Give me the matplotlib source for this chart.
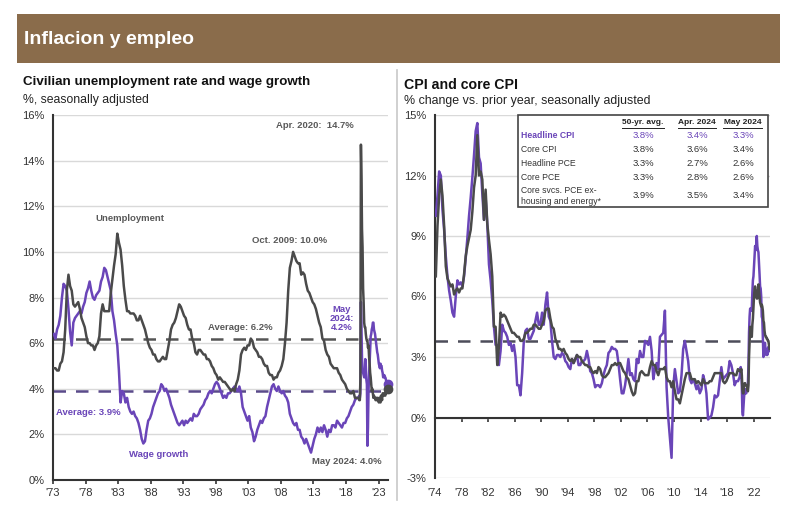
import numpy as np
import matplotlib
matplotlib.use('Agg')
import matplotlib.pyplot as plt
from matplotlib.patches import Rectangle
from matplotlib.lines import Line2D

plt.rcParams['font.family'] = ['Liberation Sans', 'DejaVu Sans']

# ---- unemployment rate, quarterly 1973-2019 then monthly 2020-May 2024
unemp_q = [
    4.9, 4.9, 4.8, 4.8,   5.1, 5.2, 5.6, 6.6,   8.3, 9.0, 8.5, 8.3,   7.7, 7.6, 7.7, 7.8,
    7.5, 7.1, 6.9, 6.7,   6.3, 6.0, 6.0, 5.9,   5.9, 5.7, 5.9, 6.0,   6.3, 7.3, 7.7, 7.4,
    7.4, 7.4, 7.4, 8.2,   8.8, 9.4, 9.9, 10.8,  10.4, 10.1, 9.4, 8.5,  7.9, 7.4, 7.4, 7.3,
    7.3, 7.3, 7.2, 7.0,   7.0, 7.2, 7.0, 6.8,   6.6, 6.3, 6.0, 5.8,   5.7, 5.5, 5.5, 5.3,
    5.2, 5.2, 5.3, 5.4,   5.3, 5.3, 5.7, 6.1,   6.6, 6.8, 6.9, 7.1,   7.4, 7.7, 7.6, 7.4,
    7.2, 7.1, 6.8, 6.6,   6.6, 6.2, 6.0, 5.6,   5.5, 5.7, 5.7, 5.6,   5.5, 5.5, 5.3, 5.3,
    5.2, 5.0, 4.9, 4.7,   4.6, 4.4, 4.5, 4.4,   4.3, 4.3, 4.2, 4.1,   4.0, 3.9, 4.0, 3.9,
    4.2, 4.4, 4.8, 5.5,   5.7, 5.8, 5.7, 5.9,   5.9, 6.2, 6.1, 5.8,   5.7, 5.6, 5.4, 5.4,
    5.3, 5.1, 5.0, 5.0,   4.7, 4.6, 4.6, 4.4,   4.5, 4.5, 4.7, 4.8,   5.0, 5.3, 6.0, 6.9,
    8.3, 9.3, 9.6, 10.0,  9.8, 9.6, 9.5, 9.5,   9.0, 9.1, 9.0, 8.6,   8.3, 8.2, 8.0, 7.8,
    7.7, 7.5, 7.2, 6.9,   6.7, 6.2, 6.1, 5.7,   5.5, 5.4, 5.1, 5.0,   4.9, 4.9, 4.9, 4.7,
    4.6, 4.4, 4.3, 4.2,   4.0, 3.9, 3.8, 3.8,   3.9, 3.6, 3.6, 3.6,
]
unemp_m = [
    3.5, 3.5, 4.4, 14.7, 13.2, 11.0, 10.2, 8.4, 7.8, 6.9, 6.7, 6.7,
    6.4, 6.2, 6.1, 6.1, 5.8, 5.9, 5.4, 5.1, 4.7, 4.5, 4.2, 3.9,
    4.0, 3.8, 3.6, 3.7, 3.6, 3.6, 3.5, 3.6, 3.5, 3.6, 3.6, 3.5,
    3.4, 3.6, 3.5, 3.4, 3.7, 3.6, 3.5, 3.8, 3.8, 3.8, 3.7, 3.7,
    3.7, 3.9, 3.8, 3.9, 4.0,
]

# ---- wage growth (% y/y), quarterly 1973-2019 then monthly 2020-May 2024
wage_q = [
    6.4, 6.2, 6.6, 6.8,   7.2, 8.0, 8.6, 8.5,   8.3, 7.5, 6.5, 5.9,   6.9, 7.1, 7.2, 7.3,
    7.4, 7.3, 7.6, 7.8,   8.2, 8.4, 8.7, 8.3,   8.0, 7.9, 8.1, 8.2,   8.3, 8.7, 8.9, 9.3,
    9.2, 8.9, 8.6, 8.3,   7.4, 7.0, 6.4, 5.9,   4.8, 3.4, 3.9, 3.8,   3.4, 3.6, 3.2, 3.0,
    2.9, 3.0, 2.8, 2.7,   2.5, 2.2, 1.8, 1.6,   1.7, 2.2, 2.6, 2.7,   2.9, 3.2, 3.4, 3.6,
    3.8, 3.9, 4.2, 4.1,   3.9, 4.0, 3.8, 3.6,   3.3, 3.1, 2.9, 2.7,   2.5, 2.4, 2.5, 2.6,
    2.4, 2.6, 2.5, 2.6,   2.7, 2.6, 2.9, 2.8,   2.8, 2.9, 3.1, 3.2,   3.3, 3.5, 3.6, 3.8,
    3.9, 3.8, 4.0, 4.2,   4.3, 4.2, 4.0, 3.8,   3.6, 3.7, 3.6, 3.8,   3.8, 3.9, 4.0, 4.1,
    4.0, 3.9, 4.1, 3.8,   3.2, 3.0, 2.8, 2.6,   2.8, 2.3, 2.1, 1.7,   1.9, 2.2, 2.4, 2.6,
    2.5, 2.7, 2.8, 3.2,   3.5, 3.8, 4.1, 4.2,   4.0, 3.9, 4.1, 3.9,   3.8, 3.9, 3.7, 3.6,
    3.4, 2.9, 2.7, 2.5,   2.4, 2.5, 2.2, 2.2,   1.9, 1.8, 1.6, 1.8,   1.6, 1.4, 1.2, 1.5,
    1.8, 2.0, 2.3, 2.1,   2.3, 2.1, 2.4, 2.2,   1.9, 2.2, 2.1, 2.4,   2.4, 2.3, 2.6, 2.5,
    2.4, 2.3, 2.5, 2.5,   2.7, 2.8, 3.0, 3.2,   3.3, 3.5, 3.6, 3.6,
]
wage_m = [
    3.7, 3.6, 3.8, 7.8, 6.7, 5.3, 4.8, 4.7, 4.6, 4.5, 4.5, 5.3,
    5.0, 4.4, 4.2, 1.5, 2.3, 3.9, 4.6, 5.1, 5.7, 6.3, 6.4, 6.6,
    6.7, 6.9, 6.9, 6.6, 6.5, 6.4, 6.2, 6.0, 5.8, 5.6, 5.5, 5.3,
    5.1, 5.0, 4.9, 5.1, 5.0, 5.0, 4.8, 4.7, 4.5, 4.5, 4.6, 4.5,
    4.5, 4.4, 4.3, 4.0, 4.2,
]

# ---- CPI (% y/y), quarterly 1974-2019 then monthly 2020-May 2024
cpi_q = [
    10.0, 11.0, 12.2, 12.0,  10.3, 9.3, 8.0, 7.0,   6.3, 5.8, 5.2, 5.0,   6.0, 6.8, 6.6, 6.7,
    6.5, 7.0, 7.9, 8.9,   10.0, 10.9, 11.9, 13.0,  14.2, 14.6, 12.9, 12.6,  11.1, 9.8, 10.9, 9.6,
    7.6, 6.8, 5.8, 4.5,   3.6, 3.6, 2.6, 3.3,   4.6, 4.3, 4.2, 4.0,   3.6, 3.7, 3.3, 3.6,
    3.0, 1.6, 1.6, 1.1,   2.2, 3.8, 4.3, 4.4,   3.9, 3.9, 4.1, 4.3,   4.8, 5.2, 4.6, 4.6,
    5.2, 4.6, 5.6, 6.2,   5.0, 4.8, 3.8, 3.0,   2.9, 3.1, 3.1, 3.0,   3.2, 3.1, 2.8, 2.7,
    2.5, 2.4, 2.9, 2.7,   2.9, 3.1, 2.6, 2.6,   2.8, 2.8, 2.9, 3.3,   2.9, 2.3, 2.2, 1.9,
    1.5, 1.6, 1.6, 1.5,   1.7, 2.1, 2.4, 2.6,   3.2, 3.3, 3.5, 3.4,   3.4, 3.3, 2.7, 1.9,
    1.2, 1.2, 1.6, 2.2,   2.9, 2.1, 2.2, 1.9,   1.8, 2.9, 2.7, 3.3,   3.0, 3.0, 3.8, 3.7,
    3.6, 4.0, 3.3, 1.9,   2.4, 2.7, 2.4, 4.0,   4.1, 4.2, 5.3, 1.5,   0.0, -1.0, -2.0, 1.5,
    2.4, 1.8, 1.2, 1.3,   2.1, 3.4, 3.8, 3.3,   2.8, 1.9, 1.7, 1.9,   1.7, 1.4, 1.6, 1.2,
    1.4, 2.1, 1.8, 1.2,   -0.1, 0.0, 0.1, 0.5,  1.1, 1.0, 1.1, 1.8,   2.5, 1.9, 2.0, 2.1,
    2.2, 2.8, 2.6, 2.2,   1.6, 1.8, 1.8, 2.0,
]
cpi_m = [
    2.5, 2.3, 1.5, 0.3, 0.1, 0.6, 1.0, 1.3, 1.4, 1.2, 1.2, 1.4,
    1.4, 1.7, 2.6, 4.2, 5.0, 5.4, 5.4, 5.3, 5.4, 6.2, 6.8, 7.0,
    7.5, 7.9, 8.5, 8.3, 8.6, 9.0, 8.5, 8.3, 8.2, 7.7, 7.1, 6.5,
    6.4, 6.0, 5.0, 4.9, 4.0, 3.0, 3.2, 3.7, 3.7, 3.2, 3.1, 3.4,
    3.1, 3.2, 3.5, 3.4, 3.3,
]
core_q = [
    7.0, 9.5, 11.0, 11.8,  11.0, 9.5, 7.5, 6.9,   6.7, 6.5, 6.6, 6.1,   6.3, 6.4, 6.2, 6.4,
    6.4, 7.1, 8.0, 8.5,   8.9, 9.3, 10.2, 11.4,  12.0, 14.0, 12.0, 12.2,  11.8, 9.8, 11.3, 9.6,
    8.8, 8.1, 7.0, 4.5,   4.5, 2.6, 3.5, 5.2,   5.0, 5.1, 5.0, 4.8,   4.6, 4.4, 4.2, 4.2,
    4.1, 4.0, 4.0, 3.8,   3.8, 3.9, 4.2, 4.2,   4.3, 4.4, 4.4, 4.6,   4.6, 4.5, 4.4, 4.4,
    4.6, 4.8, 5.3, 5.4,   5.4, 4.9, 4.5, 4.4,   3.9, 3.7, 3.4, 3.4,   3.3, 3.4, 3.2, 3.1,
    2.9, 2.8, 2.9, 2.7,   2.9, 3.1, 3.0, 3.0,   2.8, 2.7, 2.6, 2.6,   2.5, 2.5, 2.3, 2.2,
    2.3, 2.2, 2.5, 2.4,   2.1, 2.0, 2.0, 2.1,   2.2, 2.4, 2.6, 2.6,   2.7, 2.6, 2.7, 2.7,
    2.5, 2.3, 2.2, 2.0,   1.9, 1.6, 1.3, 1.1,   1.2, 1.8, 1.8, 2.2,   2.3, 2.2, 2.1, 2.1,
    2.1, 2.5, 2.8, 2.6,   2.6, 2.3, 2.1, 2.4,   2.4, 2.4, 2.5, 2.0,   1.8, 1.8, 1.5, 1.8,
    1.3, 0.9, 0.9, 0.7,   1.1, 1.5, 1.9, 2.2,   2.2, 2.2, 1.9, 1.9,   1.9, 1.7, 1.8, 1.7,
    1.6, 1.9, 1.7, 1.7,   1.7, 1.8, 1.8, 2.0,   2.2, 2.2, 2.2, 2.2,   2.2, 1.8, 1.7, 1.8,
    2.0, 2.2, 2.2, 2.2,   2.1, 2.1, 2.4, 2.3,
]
core_m = [
    2.3, 2.4, 2.1, 1.4, 1.2, 1.2, 1.6, 1.7, 1.7, 1.6, 1.6, 1.6,
    1.4, 1.3, 1.6, 3.0, 3.8, 4.5, 4.3, 4.0, 4.0, 4.6, 4.9, 5.5,
    6.0, 6.4, 6.5, 6.2, 6.0, 5.9, 5.9, 6.3, 6.6, 6.3, 6.0, 5.7,
    5.6, 5.5, 5.6, 5.5, 5.3, 4.8, 4.7, 4.3, 4.1, 4.0, 4.0, 3.9,
    3.9, 3.8, 3.8, 3.6, 3.4,
]

unemp_avg = 6.2
wage_avg = 3.9
cpi_avg = 3.8

left_years = [1973, 1978, 1983, 1988, 1993, 1998, 2003, 2008, 2013, 2018, 2023]
right_years = [1974, 1978, 1982, 1986, 1990, 1994, 1998, 2002, 2006, 2010, 2014, 2018, 2022]

table_cols = ['50-yr. avg.', 'Apr. 2024', 'May 2024']
table_rows = ['Headline CPI', 'Core CPI', 'Headline PCE', 'Core PCE',
              'Core svcs. PCE ex-\nhousing and energy*']
table_vals = [['3.8%', '3.4%', '3.3%'],
              ['3.8%', '3.6%', '3.4%'],
              ['3.3%', '2.7%', '2.6%'],
              ['3.3%', '2.8%', '2.6%'],
              ['3.9%', '3.5%', '3.4%']]

PURPLE = '#6a45b8'
GRAY = '#4a4a4a'
TXT = '#595959'
GRID = '#d9d9d9'


def qdates(start, n):
    return start + (np.arange(n) + 0.5) / 4


def mdates(n):
    return 2020 + (np.arange(n) + 0.5) / 12


def px(x, y):
    return x / 790, 1 - y / 520


W, H = 790, 520
fig = plt.figure(figsize=(7.9, 5.2), dpi=100)

# header band
fig.patches.append(Rectangle(px(17, 63), 763 / W, 49 / H, transform=fig.transFigure,
                             facecolor='#8a6c4b', edgecolor='none'))
fig.text(*px(24, 40), 'Inflacion y empleo', color='white', fontsize=14,
         fontweight='bold', va='center')

# divider between panels
fig.add_artist(Line2D([397 / W, 397 / W], [1 - 70 / H, 1 - 500 / H], color='#c8c8c8', lw=1.2))

# ---------------- left panel
ax1 = fig.add_axes([53 / W, 1 - 480 / H, 335 / W, 365 / H])
u_x = np.concatenate([qdates(1973, len(unemp_q)), mdates(len(unemp_m))])
u_y = np.concatenate([unemp_q, unemp_m])
w_x = np.concatenate([qdates(1973, len(wage_q)), mdates(len(wage_m))])
w_y = np.concatenate([wage_q, wage_m])

ax1.axhline(unemp_avg, color='#555555', lw=1.8, dashes=(5, 4), zorder=2)
ax1.axhline(wage_avg, color='#5a4a8a', lw=1.8, dashes=(5, 4), zorder=2)
ax1.plot(w_x, w_y, color=PURPLE, lw=1.8, zorder=3)
ax1.plot(u_x, u_y, color=GRAY, lw=1.8, zorder=4)
ax1.plot(w_x[-1], w_y[-1], 'o', color=PURPLE, ms=6, zorder=5, clip_on=False)
ax1.plot(u_x[-1], u_y[-1], 'o', color=GRAY, ms=6, zorder=5, clip_on=False)

ax1.set_xlim(1973, 2024.45)
ax1.set_ylim(0, 16)
ax1.set_yticks(range(0, 17, 2))
ax1.set_yticklabels([f'{v}%' for v in range(0, 17, 2)])
ax1.set_xticks(left_years)
ax1.set_xticklabels([f"'{str(y)[2:]}" for y in left_years])
ax1.grid(axis='y', color=GRID, lw=1)
ax1.set_axisbelow(True)

ann = dict(fontsize=6.8, fontweight='bold')
ax1.text(2019.2, 15.55, 'Apr. 2020:  14.7%', color=TXT, ha='right', va='center', **ann)
ax1.text(1984.8, 11.45, 'Unemployment', color=TXT, ha='center', va='center', **ann)
ax1.text(2009.3, 10.5, 'Oct. 2009: 10.0%', color=TXT, ha='center', va='center', **ann)
ax1.text(2001.7, 6.7, 'Average: 6.2%', color=TXT, ha='center', va='center', **ann)
ax1.text(2017.3, 7.1, 'May\n2024:\n4.2%', color=PURPLE, ha='center', va='center',
         linespacing=1.0, **ann)
ax1.text(1978.4, 2.98, 'Average: 3.9%', color=PURPLE, ha='center', va='center', **ann)
ax1.text(1989.3, 1.1, 'Wage growth', color=PURPLE, ha='center', va='center', **ann)
ax1.text(2018.1, 0.83, 'May 2024: 4.0%', color=TXT, ha='center', va='center', **ann)

# ---------------- right panel
ax2 = fig.add_axes([435 / W, 1 - 478 / H, 335 / W, 363 / H])
c_x = np.concatenate([qdates(1974, len(cpi_q)), mdates(len(cpi_m))])
c_y = np.concatenate([cpi_q, cpi_m])
k_x = np.concatenate([qdates(1974, len(core_q)), mdates(len(core_m))])
k_y = np.concatenate([core_q, core_m])

ax2.axhline(cpi_avg, color='#4d4d5a', lw=1.8, dashes=(5, 4), zorder=2)
ax2.plot(c_x, c_y, color=PURPLE, lw=1.8, zorder=3)
ax2.plot(k_x, k_y, color=GRAY, lw=1.8, zorder=4)

ax2.set_xlim(1974, 2024.45)
ax2.set_ylim(-3, 15)
ax2.set_yticks(range(-3, 16, 3))
ax2.set_yticklabels([f'{v}%' for v in range(-3, 16, 3)])
ax2.set_xticks(right_years)
ax2.set_xticklabels([f"'{str(y)[2:]}" for y in right_years])
ax2.grid(axis='y', color=GRID, lw=1)
ax2.set_axisbelow(True)
ax2.spines['bottom'].set_position(('data', 0))

for ax in (ax1, ax2):
    for s in ('top', 'right'):
        ax.spines[s].set_visible(False)
    for s in ('left', 'bottom'):
        ax.spines[s].set_color('#333333')
        ax.spines[s].set_linewidth(1.5)
    ax.tick_params(axis='y', length=0, labelsize=8, colors='#333333', pad=6)
    ax.tick_params(axis='x', length=3, width=1.2, labelsize=8, colors='#333333', direction='out')
ax2.tick_params(axis='x', pad=47.5)
ax1.tick_params(axis='x', pad=3)

# titles
fig.text(*px(23, 82), 'Civilian unemployment rate and wage growth', fontsize=9.6,
         fontweight='bold', va='center', color='#111111')
fig.text(*px(23, 100), '%, seasonally adjusted', fontsize=8.8, va='center', color='#222222')
fig.text(*px(404, 85), 'CPI and core CPI', fontsize=10.2, fontweight='bold', va='center',
         color='#111111')
fig.text(*px(404, 101), '% change vs. prior year, seasonally adjusted', fontsize=8.9,
         va='center', color='#222222')

# table
fig.patches.append(Rectangle(px(518, 207), 250 / W, 92 / H, transform=fig.transFigure,
                             facecolor='white', edgecolor='#444444', lw=1.2, zorder=10))
col_x = [643, 697, 743]
col_span = [(622, 664), (678, 716), (723, 762)]
for cx, (a, b), lab in zip(col_x, col_span, table_cols):
    fig.text(*px(cx, 122), lab, fontsize=6, fontweight='bold', ha='center', va='center',
             color='#222222', zorder=11)
    fig.add_artist(Line2D([a / W, b / W], [1 - 128 / H, 1 - 128 / H], color='#222222',
                          lw=0.7, zorder=11))
row_y = [135, 149, 163, 177, 196]
for i, (ry, lab) in enumerate(zip(row_y, table_rows)):
    col = PURPLE if i == 0 else '#333333'
    wt = 'bold' if i == 0 else 'normal'
    fig.text(*px(521, ry), lab, fontsize=6.2, ha='left', va='center', color=col,
             fontweight=wt, linespacing=1.3, zorder=11)
    for cx, v in zip(col_x, table_vals[i]):
        fig.text(*px(cx, ry), v, fontsize=6.8, ha='center', va='center', color=col, zorder=11)

fig.savefig('out.png', dpi=100, facecolor='white')
